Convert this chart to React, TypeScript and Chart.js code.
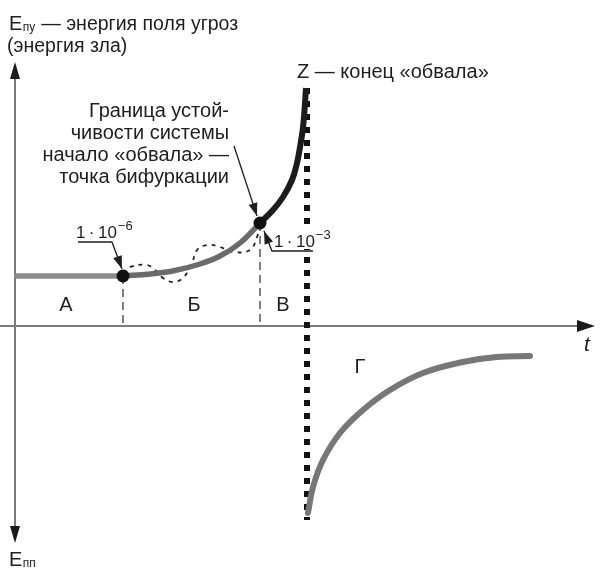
import React, { useEffect, useRef } from "react";
import { Chart, registerables } from "chart.js";

Chart.register(...registerables);

// ---- data (t — time, E — energy of the threat field), schematic units ----
const flatT = [0, 10.8];
const flatE = [5.0, 5.0];

const riseT = [10.8, 13.5, 16.0, 18.5, 20.5, 22.5, 24.5];
const riseE = [5.0, 5.2, 5.55, 6.2, 7.0, 8.3, 10.3];

const collapseT = [24.5, 25.8, 26.8, 27.7, 28.2, 28.5, 28.77, 28.93, 29.1];
const collapseE = [10.3, 11.6, 12.9, 14.6, 16.3, 17.9, 19.6, 21.3, 23.8];

const recoveryT = [29.3, 29.8, 30.8, 32.5, 34.8, 37.5, 40.8, 44.8, 48.2, 51.5];
const recoveryE = [-18.7, -16.1, -13.4, -10.7, -8.4, -6.4, -4.7, -3.6, -3.1, -3.0];

const wiggleT = [10.8, 11.5, 13.2, 14.0, 14.8, 15.8, 16.8, 17.7, 18.2, 19.2, 20.5, 21.8, 23.5, 24.2, 24.5];
const wiggleE = [5.3, 5.9, 6.1, 5.6, 4.8, 4.4, 4.8, 6.3, 7.6, 8.1, 7.9, 7.4, 7.6, 8.9, 10.1];

const bifurcationT = [10.8, 24.5]; // 1·10^-6 and 1·10^-3 points
const bifurcationE = [5.0, 10.3];

const collapseEndT = 29.2; // Z
const collapseEndE = [23.8, -19.4];

const regionLabels = ["А", "Б", "В", "Г"];
const pointLabels = ["1\u2009·\u200910", "−6", "1\u2009·\u200910", "−3"];

const zip = (xs: number[], ys: number[]) => xs.map((x, i) => ({ x, y: ys[i] }));

const FONT = '"Liberation Sans", Arial, sans-serif';
const TXT = "#1e1e1e";

function arrowHead(ctx: CanvasRenderingContext2D, fx: number, fy: number, tx: number, ty: number, len: number, w: number, color: string) {
  const a = Math.atan2(ty - fy, tx - fx);
  ctx.save();
  ctx.fillStyle = color;
  ctx.beginPath();
  ctx.moveTo(tx, ty);
  ctx.lineTo(tx - len * Math.cos(a) + w * Math.sin(a), ty - len * Math.sin(a) - w * Math.cos(a));
  ctx.lineTo(tx - len * Math.cos(a) - w * Math.sin(a), ty - len * Math.sin(a) + w * Math.cos(a));
  ctx.closePath();
  ctx.fill();
  ctx.restore();
}

function polyArrow(ctx: CanvasRenderingContext2D, pts: number[][]) {
  ctx.save();
  ctx.strokeStyle = TXT;
  ctx.lineWidth = 1.3;
  ctx.beginPath();
  pts.forEach((p, i) => (i ? ctx.lineTo(p[0], p[1]) : ctx.moveTo(p[0], p[1])));
  ctx.stroke();
  ctx.restore();
  const n = pts.length;
  arrowHead(ctx, pts[n - 2][0], pts[n - 2][1], pts[n - 1][0], pts[n - 1][1], 13, 4.5, TXT);
}

function subText(ctx: CanvasRenderingContext2D, x: number, y: number, main: string, sub: string, rest: string) {
  ctx.font = `20px ${FONT}`;
  ctx.fillText(main, x, y);
  let cx = x + ctx.measureText(main).width;
  ctx.font = `12px ${FONT}`;
  ctx.fillText(sub, cx + 0.5, y + 1);
  cx += ctx.measureText(sub).width + 1;
  ctx.font = `19.5px ${FONT}`;
  ctx.fillText(rest, cx, y);
}

function supText(ctx: CanvasRenderingContext2D, x: number, y: number, main: string, sup: string, mask: boolean) {
  ctx.font = `17px ${FONT}`;
  const w1 = ctx.measureText(main).width;
  ctx.font = `13px ${FONT}`;
  const w2 = ctx.measureText(sup).width;
  if (mask) {
    ctx.save();
    ctx.fillStyle = "#fff";
    ctx.fillRect(x - 1, y - 19, w1 + w2 + 4, 21);
    ctx.restore();
  }
  ctx.font = `17px ${FONT}`;
  ctx.fillText(main, x, y);
  ctx.font = `13px ${FONT}`;
  ctx.fillText(sup, x + w1 + 1, y - 8);
}

const diagramPlugin = {
  id: "diagram",
  beforeDatasetsDraw(chart: any) {
    const { ctx, scales } = chart;
    const x0 = scales.x.getPixelForValue(0);
    const y0 = scales.y.getPixelForValue(0);
    ctx.save();
    ctx.strokeStyle = "#7a7a7a";
    ctx.lineWidth = 2;
    ctx.beginPath();
    ctx.moveTo(x0, 72);
    ctx.lineTo(x0, 535);
    ctx.moveTo(0, y0);
    ctx.lineTo(585, y0);
    ctx.stroke();
    ctx.restore();
    arrowHead(ctx, x0, 100, x0, 62, 17, 5, "#1a1a1a");
    arrowHead(ctx, x0, 500, x0, 543, 17, 5, "#1a1a1a");
    arrowHead(ctx, 500, y0, 595, y0, 18, 6, "#1a1a1a");
  },
  afterDatasetsDraw(chart: any) {
    const { ctx, scales } = chart;
    const px = (t: number) => scales.x.getPixelForValue(t);
    const py = (e: number) => scales.y.getPixelForValue(e);
    const ax = px(bifurcationT[0]), ay = py(bifurcationE[0]);
    const bx = px(bifurcationT[1]), by = py(bifurcationE[1]);

    ctx.save();
    ctx.fillStyle = TXT;
    ctx.textBaseline = "alphabetic";
    ctx.textAlign = "left";

    subText(ctx, 9, 30, "E", "пу", " — энергия поля угроз");
    ctx.font = `19.5px ${FONT}`;
    ctx.fillText("(энергия зла)", 7, 52);
    subText(ctx, 9, 566, "E", "пп", "");

    ctx.font = `20px ${FONT}`;
    ctx.fillText("Z — конец «обвала»", 297, 78);

    ctx.textAlign = "right";
    ["Граница устой-", "чивости системы", "начало «обвала» —", "точка бифуркации"].forEach((s, i) =>
      ctx.fillText(s, 229, 117 + i * 22)
    );

    ctx.textAlign = "center";
    ctx.font = `20px ${FONT}`;
    ctx.fillText(regionLabels[0], 66, 311);
    ctx.fillText(regionLabels[1], 194, 311);
    ctx.fillText(regionLabels[2], 283, 311);
    ctx.fillText(regionLabels[3], 360, 373);
    ctx.font = `italic 21px ${FONT}`;
    ctx.fillText("t", 587, 351);

    ctx.textAlign = "left";
    supText(ctx, 76, 238, pointLabels[0], pointLabels[1], false);
    supText(ctx, 274, 247, pointLabels[2], pointLabels[3], true);
    ctx.restore();

    polyArrow(ctx, [[234, 146], [bx - 3, by - 7]]);
    polyArrow(ctx, [[78, 242], [112, 242], [ax - 1, ay - 7]]);
    polyArrow(ctx, [[313, 251], [272, 251], [bx + 4, by + 8]]);
  },
};

export default function App() {
  const ref = useRef<HTMLCanvasElement>(null);
  useEffect(() => {
    if (!ref.current) return;
    const chart = new Chart(ref.current, {
      type: "scatter",
      data: {
        datasets: [
          {
            data: zip(bifurcationT, bifurcationE),
            showLine: false,
            pointRadius: 6.5,
            pointBackgroundColor: "#111",
            pointBorderWidth: 0,
          },
          {
            data: zip(collapseT, collapseE),
            showLine: true,
            borderColor: "#1c1c1c",
            borderWidth: 6,
            pointRadius: 0,
            tension: 0.4,
          },
          {
            data: zip(riseT, riseE),
            showLine: true,
            borderColor: "#6b6b6b",
            borderWidth: 5.5,
            pointRadius: 0,
            tension: 0.4,
          },
          {
            data: zip(flatT, flatE),
            showLine: true,
            borderColor: "#8c8c8c",
            borderWidth: 5.5,
            pointRadius: 0,
          },
          {
            data: zip(wiggleT, wiggleE),
            showLine: true,
            borderColor: "#222",
            borderWidth: 1.8,
            borderDash: [4, 5],
            pointRadius: 0,
            tension: 0.4,
          },
          {
            data: zip(recoveryT, recoveryE),
            showLine: true,
            borderColor: "#777",
            borderWidth: 6,
            borderCapStyle: "round",
            pointRadius: 0,
            tension: 0.4,
          },
          {
            data: [
              { x: collapseEndT, y: collapseEndE[0] },
              { x: collapseEndT, y: collapseEndE[1] },
            ],
            showLine: true,
            borderColor: "#111",
            borderWidth: 6,
            borderDash: [6, 7],
            pointRadius: 0,
          },
          ...bifurcationT.map((t, i) => ({
            data: [
              { x: t, y: bifurcationE[i] },
              { x: t, y: 0 },
            ],
            showLine: true,
            borderColor: "#555",
            borderWidth: 1.5,
            borderDash: [8, 5],
            pointRadius: 0,
          })),
        ],
      },
      options: {
        animation: false,
        responsive: false,
        layout: { padding: 0, autoPadding: false },
        plugins: { legend: { display: false }, tooltip: { enabled: false } },
        events: [],
        scales: {
          x: { type: "linear", min: -1.5, max: 59, display: false },
          y: { type: "linear", min: -24.9, max: 32.6, display: false },
        },
      },
      plugins: [diagramPlugin],
    } as any);
    return () => chart.destroy();
  }, []);
  return (
    <canvas
      ref={ref}
      width={605}
      height={575}
      style={{ position: "fixed", left: 0, top: 0, width: 605, height: 575, display: "block", background: "#fff" }}
    />
  );
}
